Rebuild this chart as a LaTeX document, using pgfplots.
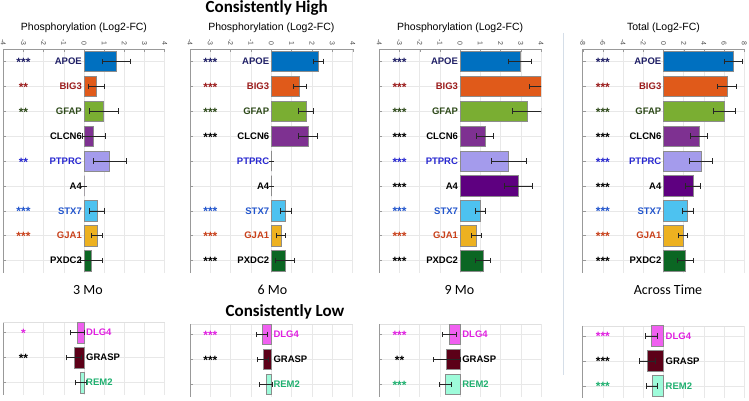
\documentclass[border=0pt]{standalone}
\usepackage{pgfplots}
\pgfplotsset{compat=1.18}
\usepackage{pgfplotstable}
\usepackage{fontspec}
\setmainfont{Liberation Sans}
\newfontfamily\calibri{Carlito}

\definecolor{cAPOE}{HTML}{0070C0}
\definecolor{cBIG3}{HTML}{E05A1A}
\definecolor{cGFAP}{HTML}{7AAE32}
\definecolor{cCLCN6}{HTML}{7E3191}
\definecolor{cPTPRC}{HTML}{A49BEC}
\definecolor{cA4}{HTML}{5E0080}
\definecolor{cSTX7}{HTML}{4DC2F0}
\definecolor{cGJA1}{HTML}{EDB120}
\definecolor{cPXDC2}{HTML}{0B6623}
\definecolor{cDLG4}{HTML}{F060F0}
\definecolor{cGRASP}{HTML}{5C0018}
\definecolor{cREM2}{HTML}{9EFBDA}
\definecolor{tAPOE}{HTML}{1F1F66}
\definecolor{tBIG3}{HTML}{9B1C1C}
\definecolor{tGFAP}{HTML}{2E4A1A}
\definecolor{tPTPRC}{HTML}{2828D0}
\definecolor{tSTX7}{HTML}{2255CC}
\definecolor{tGJA1}{HTML}{C8401A}
\definecolor{tDLG4}{HTML}{E020E0}
\definecolor{tREM2}{HTML}{20B070}
\definecolor{sep}{HTML}{D5DEE8}

% ---- data: row, value (Log2-FC), error ----
\pgfplotstableread{
row val err
1 1.60 0.67
2 0.62 0.41
3 0.97 0.72
4 0.47 0.57
5 1.27 0.83
6 0.00 0.00
7 0.65 0.38
8 0.63 0.28
9 0.35 0.55
}\hthree
\pgfplotstableread{
row val err
1 2.32 0.25
2 1.38 0.32
3 1.70 0.37
4 1.80 0.47
5 0.00 0.00
6 0.00 0.00
7 0.70 0.28
8 0.46 0.23
9 0.66 0.45
}\hsix
\pgfplotstableread{
row val err
1 2.95 0.55
2 4.00 0.60
3 3.30 0.73
4 1.22 0.40
5 2.40 0.87
6 2.88 0.70
7 1.00 0.23
8 0.80 0.26
9 1.12 0.38
}\hnine
\pgfplotstableread{
row val err
1 6.86 0.89
2 6.28 0.97
3 6.00 1.08
4 3.50 0.85
5 3.70 1.10
6 2.90 0.70
7 2.38 0.55
8 1.95 0.45
9 2.15 0.75
}\hall
\pgfplotstableread{
row val err
1 -0.32 0.35
2 -0.50 0.38
3 -0.18 0.27
}\lthree
\pgfplotstableread{
row val err
1 -0.45 0.27
2 -0.42 0.26
3 -0.27 0.31
}\lsix
\pgfplotstableread{
row val err
1 -0.52 0.35
2 -0.68 0.67
3 -0.73 0.28
}\lnine
\pgfplotstableread{
row val err
1 -1.20 0.60
2 -1.60 0.82
3 -1.12 0.55
}\lall

\newcommand{\onebar}[3]{%
  \addplot[xbar, bar shift=0pt, bar width=0.82, fill=#3, draw=black!45, line width=0.4pt,
    error bars/.cd, x dir=both, x explicit, error mark=|,
    error bar style={black!85, line width=0.55pt},
    error mark options={black!85, line width=0.55pt, mark size=2.8pt}]
    table[x=val, y=row, x error=err, restrict expr to domain={\coordindex+1}{#2:#2}] {#1};}
% #1 table #2 row #3 fill #4 text colour #5 name #6 stars #7 star x
\newcommand{\hgene}[7]{%
  \onebar{#1}{#2}{#3}
  \node[anchor=east, inner sep=0pt, xshift=-2pt, text=#4, font=\fontsize{9.5}{11}\selectfont\bfseries] at (axis cs:0,#2) {#5};
  \node[inner sep=0pt, yshift=-1pt, text=#4, font=\fontsize{12}{12}\selectfont\bfseries] at (axis cs:#7,#2) {#6};}
\newcommand{\lgene}[7]{%
  \onebar{#1}{#2}{#3}
  \node[anchor=west, inner sep=0pt, xshift=2pt, text=#4, font=\fontsize{9.5}{11}\selectfont\bfseries] at (axis cs:0,#2) {#5};
  \node[inner sep=0pt, yshift=-1pt, text=#4, font=\fontsize{12}{12}\selectfont\bfseries] at (axis cs:#7,#2) {#6};}

\pgfplotsset{
  base/.style={
    scale only axis, anchor=north west, y dir=reverse,
    axis x line*=top, axis y line*=left,
    axis line style={black!40, line width=0.5pt},
    tick style={black!40, line width=0.4pt}, major tick length=3pt,
    grid=major, grid style={black!9, line width=0.5pt},
    yticklabels={}, clip=true,
    /pgf/number format/assume math mode=true,
    xticklabel style={font=\fontsize{7}{8}\selectfont, rotate=-90, anchor=east, text=black!70},
    title style={font=\fontsize{10.5}{12}\selectfont, at={(0.5,1)}, anchor=base, yshift=13pt},
  },
  hi/.style={base, height=224pt, ymin=0.5, ymax=9.5, ytick={1,...,9}},
  lo/.style={base, height=72.5pt, ymin=0.6, ymax=3.5, ytick={1,2,3}, xticklabels={},
    axis x line*=top, axis line style={black!40}, x axis line style={black!12}, xtick style={draw=none}},
}

\begin{document}
\begin{tikzpicture}
\path[use as bounding box] (0pt,0pt) rectangle (749pt,400pt);

% ---------- Consistently High ----------
\begin{axis}[hi, at={(3.3pt,351pt)}, width=161.4pt, xmin=-4, xmax=4, xtick={-4,...,4},
  title={Phosphorylation (Log2-FC)}]
\hgene{\hthree}{1}{cAPOE}{tAPOE}{APOE}{***}{-3}
\hgene{\hthree}{2}{cBIG3}{tBIG3}{BIG3}{**}{-3}
\hgene{\hthree}{3}{cGFAP}{tGFAP}{GFAP}{**}{-3}
\hgene{\hthree}{4}{cCLCN6}{black}{CLCN6}{}{-3}
\hgene{\hthree}{5}{cPTPRC}{tPTPRC}{PTPRC}{**}{-3}
\hgene{\hthree}{6}{cA4}{black}{A4}{}{-3}
\hgene{\hthree}{7}{cSTX7}{tSTX7}{STX7}{***}{-3}
\hgene{\hthree}{8}{cGJA1}{tGJA1}{GJA1}{***}{-3}
\hgene{\hthree}{9}{cPXDC2}{black}{PXDC2}{}{-3}
\end{axis}

\begin{axis}[hi, at={(190pt,351pt)}, width=162.7pt, xmin=-4, xmax=4, xtick={-4,...,4},
  title={Phosphorylation (Log2-FC)}]
\hgene{\hsix}{1}{cAPOE}{tAPOE}{APOE}{***}{-3}
\hgene{\hsix}{2}{cBIG3}{tBIG3}{BIG3}{***}{-3}
\hgene{\hsix}{3}{cGFAP}{tGFAP}{GFAP}{***}{-3}
\hgene{\hsix}{4}{cCLCN6}{black}{CLCN6}{***}{-3}
\hgene{\hsix}{5}{cPTPRC}{tPTPRC}{PTPRC}{}{-3}
\hgene{\hsix}{6}{cA4}{black}{A4}{}{-3}
\hgene{\hsix}{7}{cSTX7}{tSTX7}{STX7}{***}{-3}
\hgene{\hsix}{8}{cGJA1}{tGJA1}{GJA1}{***}{-3}
\hgene{\hsix}{9}{cPXDC2}{black}{PXDC2}{***}{-3}
\end{axis}

\begin{axis}[hi, at={(379.3pt,351pt)}, width=161.7pt, xmin=-4, xmax=4, xtick={-4,...,4},
  title={Phosphorylation (Log2-FC)}]
\hgene{\hnine}{1}{cAPOE}{tAPOE}{APOE}{***}{-3}
\hgene{\hnine}{2}{cBIG3}{tBIG3}{BIG3}{***}{-3}
\hgene{\hnine}{3}{cGFAP}{tGFAP}{GFAP}{***}{-3}
\hgene{\hnine}{4}{cCLCN6}{black}{CLCN6}{***}{-3}
\hgene{\hnine}{5}{cPTPRC}{tPTPRC}{PTPRC}{***}{-3}
\hgene{\hnine}{6}{cA4}{black}{A4}{***}{-3}
\hgene{\hnine}{7}{cSTX7}{tSTX7}{STX7}{***}{-3}
\hgene{\hnine}{8}{cGJA1}{tGJA1}{GJA1}{***}{-3}
\hgene{\hnine}{9}{cPXDC2}{black}{PXDC2}{***}{-3}
\end{axis}

\begin{axis}[hi, at={(582.7pt,351pt)}, width=161.6pt, xmin=-8, xmax=8, xtick={-8,-6,...,8},
  title={Total (Log2-FC)}]
\hgene{\hall}{1}{cAPOE}{tAPOE}{APOE}{***}{-6}
\hgene{\hall}{2}{cBIG3}{tBIG3}{BIG3}{***}{-6}
\hgene{\hall}{3}{cGFAP}{tGFAP}{GFAP}{***}{-6}
\hgene{\hall}{4}{cCLCN6}{black}{CLCN6}{***}{-6}
\hgene{\hall}{5}{cPTPRC}{tPTPRC}{PTPRC}{***}{-6}
\hgene{\hall}{6}{cA4}{black}{A4}{***}{-6}
\hgene{\hall}{7}{cSTX7}{tSTX7}{STX7}{***}{-6}
\hgene{\hall}{8}{cGJA1}{tGJA1}{GJA1}{***}{-6}
\hgene{\hall}{9}{cPXDC2}{black}{PXDC2}{***}{-6}
\end{axis}

% ---------- Consistently Low ----------
\begin{axis}[lo, at={(3.3pt,77.5pt)}, width=161.4pt, xmin=-4, xmax=4, xtick={-4,...,4}]
\lgene{\lthree}{1}{cDLG4}{tDLG4}{DLG4}{*}{-3}
\lgene{\lthree}{2}{cGRASP}{black}{GRASP}{**}{-3}
\lgene{\lthree}{3}{cREM2}{tREM2}{REM2}{}{-3}
\end{axis}

\begin{axis}[lo, at={(190pt,75.7pt)}, width=162.7pt, xmin=-4, xmax=4, xtick={-4,...,4}]
\lgene{\lsix}{1}{cDLG4}{tDLG4}{DLG4}{***}{-3}
\lgene{\lsix}{2}{cGRASP}{black}{GRASP}{***}{-3}
\lgene{\lsix}{3}{cREM2}{tREM2}{REM2}{}{-3}
\end{axis}

\begin{axis}[lo, at={(379.3pt,75.7pt)}, width=161.7pt, xmin=-4, xmax=4, xtick={-4,...,4}]
\lgene{\lnine}{1}{cDLG4}{tDLG4}{DLG4}{***}{-3}
\lgene{\lnine}{2}{cGRASP}{black}{GRASP}{**}{-3}
\lgene{\lnine}{3}{cREM2}{tREM2}{REM2}{***}{-3}
\end{axis}

\begin{axis}[lo, at={(582.7pt,74.2pt)}, width=161.6pt, xmin=-8, xmax=8, xtick={-8,-6,...,8}]
\lgene{\lall}{1}{cDLG4}{tDLG4}{DLG4}{***}{-6}
\lgene{\lall}{2}{cGRASP}{black}{GRASP}{***}{-6}
\lgene{\lall}{3}{cREM2}{tREM2}{REM2}{***}{-6}
\end{axis}

% ---------- headings and separators ----------
\draw[sep, line width=0.8pt] (563.3pt,367pt) -- (563.3pt,25pt);
\node[anchor=base, font=\calibri\bfseries\fontsize{17}{20}\selectfont] at (266.7pt,387.3pt) {Consistently High};
\node[anchor=base, font=\calibri\bfseries\fontsize{17}{20}\selectfont] at (285pt,84pt) {Consistently Low};
\node[anchor=base, font=\calibri\fontsize{14}{16}\selectfont] at (88pt,106pt) {3 Mo};
\node[anchor=base, font=\calibri\fontsize{14}{16}\selectfont] at (272.5pt,106pt) {6 Mo};
\node[anchor=base, font=\calibri\fontsize{14}{16}\selectfont] at (459.5pt,106pt) {9 Mo};
\node[anchor=base, font=\calibri\fontsize{14}{16}\selectfont] at (668pt,106pt) {Across Time};
\end{tikzpicture}
\end{document}
